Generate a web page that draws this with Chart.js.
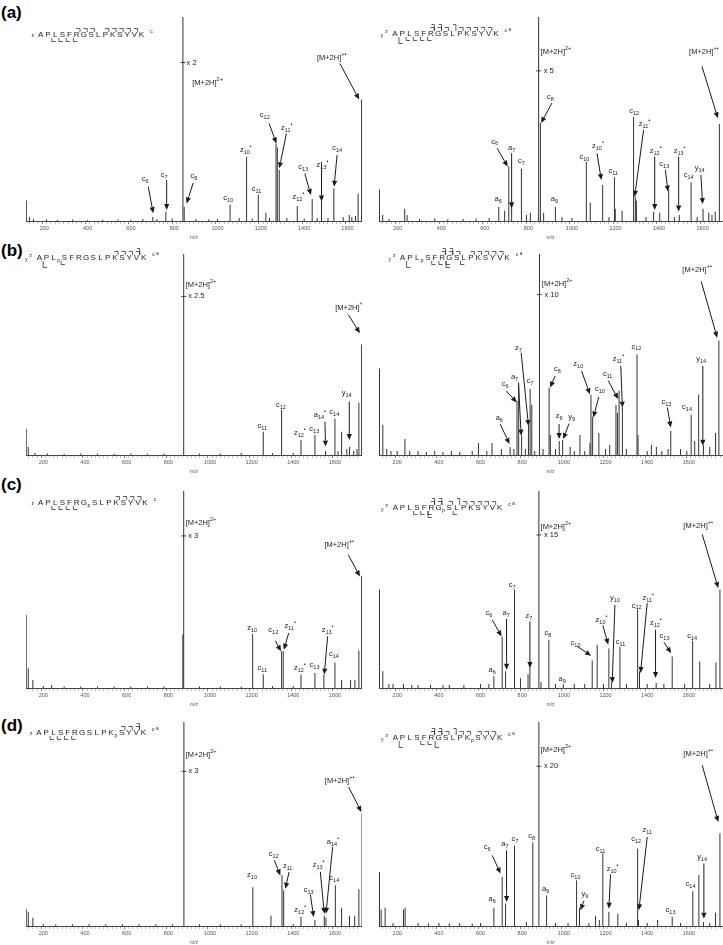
<!DOCTYPE html>
<html>
<head>
<meta charset="utf-8">
<script src="https://cdn.jsdelivr.net/npm/chart.js@4.4.0/dist/chart.umd.min.js"></script>
<style>
html, body { margin: 0; padding: 0; background: #fff; width: 723px; height: 945px; overflow: hidden; position: relative; }
canvas { position: absolute; }
.tag { position: absolute; left: 1px; font: bold 17px "Liberation Sans", Arial, sans-serif; line-height: 17px; color: #000; }
</style>
</head>
<body>
<div class="tag" style="top:4px">(a)</div>
<div class="tag" style="top:242px">(b)</div>
<div class="tag" style="top:476px">(c)</div>
<div class="tag" style="top:717px">(d)</div>
<script>
// tick labels on every m/z axis
var tickLabels = [200, 400, 600, 800, 1000, 1200, 1400, 1600];
var residues = ['A','P','L','S','F','R','G','S','L','P','K','S','Y','V','K'];

// peaks: [m/z, relative intensity %]
var peaksA1 = [[117,10],[131,2],[150,1],[210,0.8],[260,0.6],[330,0.7],[400,0.5],[470,0.6],[540,0.7],[600,0.6],
  [655,1],[701,2],[720,1],[761,4.5],[790,1.2],[840,100],[846,7],[900,1],[960,0.8],[1000,1],
  [1058,8],[1100,1.5],[1134,31.5],[1160,1.2],[1188,13],[1223,4],[1240,1.5],[1270,38],[1276,36],[1285,25],
  [1320,1.5],[1368,7.3],[1400,1.2],[1437,10.8],[1460,1.5],[1480,29],[1510,1.5],[1537,16],[1580,2],[1608,3],
  [1620,2],[1637,2.5],[1649,13.5],[1665,59.5]];
var peaksA2 = [[116,15.5],[131,3],[160,1],[232,6],[243,3],[300,1],[370,1.2],[430,0.8],[500,1],[560,1.2],
  [620,1.5],[664,7],[691,5],[710,27],[723,8],[768,25.5],[791,3],[809,4],[847,100],[855,48],[870,4],[924,7],
  [954,2],[1000,1.5],[1066,29],[1084,9],[1141,17.7],[1170,2],[1195,21.5],[1199,6],[1230,5],[1283,51],
  [1291,12],[1296,10],[1340,2],[1375,4.5],[1403,4],[1444,15.5],[1470,2],[1493,3],[1547,19],[1575,2],
  [1602,6],[1628,4],[1643,3],[1658,4.5],[1677,47.6]];
var peaksB1 = [[118,13],[128,4],[160,1],[220,0.8],[300,0.6],[380,0.7],[460,0.6],[540,0.6],[620,0.7],[700,0.6],
  [780,0.8],[874,100],[950,0.8],[1050,0.8],[1150,1],[1256,11.6],[1300,1],[1344,22.4],[1400,1],[1437,7.5],
  [1504,10],[1555,2],[1600,18],[1615,2],[1632,11.6],[1657,3],[1670,4],[1690,2],[1706,3],[1715,26],[1728,55]];
var peaksB2 = [[115,43],[131,15],[150,3],[170,2],[200,2],[237,8],[260,2],[300,2],[340,1.5],[380,2],
  [420,1.5],[460,2],[500,1.5],[560,2],[590,6],[630,2],[655,6],[700,3],[742,4],[760,3],[775,27],[783,35],
  [797,10],[815,3],[830,15],[838,33],[846,25],[860,2],[883,100],[900,3],[929,33.5],[935,10],[960,3],
  [978,7],[994,7.5],[1030,4],[1050,2],[1077,10],[1100,2],[1125,6],[1130,30],[1138,19],[1168,11],[1200,3],
  [1220,5],[1250,25],[1257,21],[1265,32],[1281,24],[1300,3],[1351,50],[1356,10],[1400,2],[1420,5],
  [1444,4],[1470,2],[1500,3],[1513,12],[1560,3],[1590,2],[1611,20],[1628,7],[1647,30],[1670,5],
  [1700,4],[1728,11],[1744,57]];
var peaksC1 = [[118,37],[128,10],[150,4],[200,1],[240,1.5],[300,0.8],[380,0.8],[460,0.8],[540,0.8],[620,0.8],
  [700,0.8],[780,0.8],[870,27],[874,100],[950,0.8],[1050,0.8],[1150,0.8],[1205,27.5],[1256,7],[1300,1],
  [1344,18.6],[1352,18.6],[1400,1],[1437,6.8],[1504,7.6],[1547,6.8],[1600,13],[1632,4],[1675,4],[1696,4],
  [1715,19],[1728,57]];
var peaksC2 = [[115,50],[131,8.5],[160,2],[180,2],[230,2],[270,1.5],[300,1.5],[360,1.5],[420,1.5],[450,1.5],
  [520,1.5],[600,2],[640,2],[664,6],[704,26],[720,8.5],[763,50],[792,5],[828,7],[837,12],[880,100],[890,3],
  [928,24.5],[960,2],[997,2],[1050,2],[1100,2],[1136,14],[1160,22],[1190,2],[1216,20],[1229,3],[1269,21],
  [1300,2],[1354,40],[1363,8.5],[1400,2],[1443,2.5],[1480,2],[1520,16],[1580,2],[1618,24],[1652,13.5],
  [1700,2],[1730,13],[1749,50]];
var peaksD1 = [[118,8.5],[128,7],[150,4],[200,1],[260,0.8],[340,0.8],[420,0.8],[500,0.8],[580,0.8],[660,0.8],
  [740,0.8],[820,0.8],[875,100],[950,0.8],[1050,0.8],[1150,0.8],[1206,19],[1293,5],[1346,25],[1354,17.5],
  [1400,1],[1437,4.5],[1504,3],[1549,5],[1557,4],[1602,20],[1632,9],[1670,5],[1695,5],[1715,18],[1730,55]];
var peaksD2 = [[115,26.5],[123,8],[142,9],[180,1.5],[230,8],[238,9],[300,1.5],[350,1.2],[400,1.5],[450,1.2],
  [500,1.5],[560,1.2],[600,1.5],[664,9],[704,24],[720,11],[763,39.5],[820,2],[851,41],[880,100],[917,15],
  [960,1.5],[1020,1.5],[1061,22.4],[1075,9],[1120,1.5],[1152,5],[1170,3],[1187,35.5],[1216,7],[1259,6],
  [1300,1.5],[1354,38],[1358,3],[1400,1.5],[1450,3],[1520,4.5],[1560,1.5],[1619,17],[1648,25],[1670,2],
  [1700,1.5],[1728,6.5],[1749,45.5]];

// ion labels: [ion, subscript, superscript, label m/z, label %, arrow from m/z, %, arrow to m/z, %]
var ionsA1 = [['c','12','',1218,51.9,1238,47.8,1272,38],['z','11','•',1315,45.7,1318,42.9,1285,25.8],
  ['z','10','•',1126,34.7],['c','14','',1552,35.6,1552,32.3,1538,16.8],['c','13','',1395,26.6,1403,23.3,1431,12.7],
  ['z','13','•',1480,27.7,1480,25,1480,9.5],['z','12','•',1369,11.9],['c','11','',1180,15.5],['c','10','',1049,11.1],
  ['c','6','',666,20.6,680,16.8,703,3.8],['c','7','',754,22.5,765,20.1,765,5.4],['c','8','',891,22.2,888,18.8,857,8.6]];
var ionsA2 = [['c','6','',645,39,656,35.7,705,26.7],['a','7','',723,36,723,33.2,723,6.2],['c','7','',768,29.5],
  ['a','6','',661,10.6],['c','8','',901,61,908,57.8,858,48],['a','9','',919,10.6],['c','10','',1057,31.6],
  ['z','10','•',1115,37,1115,33.2,1135,20.1],['c','11','',1189,24.7],['c','12','',1286,54],
  ['z','11','•',1329,47.6,1329,44.7,1288,11.9],['z','12','•',1380,34.4,1380,31.6,1380,5.4],
  ['c','13','',1424,27.8,1429,25,1441,14.4],['z','13','•',1490,34.4,1490,31.6,1490,4.6],['c','14','',1536,22.6],
  ['y','14','',1586,25.9,1592,22.6,1600,8.3]];
var ionsB1 = [['c','11','',1251,14.3],['c','12','',1341,24.9],['z','12','•',1427,10.8],['c','13','',1501,13],
  ['a','14','•',1523,19.9,1552,16.6,1555,4.2],['c','14','',1597,21.3],['y','14','',1656,30.7,1669,26.6,1669,7.5]];
var ionsB2 = [['a','6','',690,18.2,694,15.4,739,5.5],['c','6','',718,35.5,723,31.9,774,26.1],
  ['a','7','',763,38.8,782,36,795,9.6],['z','7','',782,53.4,795,50.9,830,14.5],['c','7','',838,36.9],
  ['c','8','',969,42.6,958,39.3,934,33.6],['z','9','',977,19.5,977,15.4,977,7.9],['y','9','',1037,19,1025,15.7,997,7.9],
  ['z','10','',1069,45.1,1085,41.8,1125,30.2],['c','10','',1173,32.7,1168,28.9,1141,18.7],
  ['c','11','',1210,40.2,1213,36.9,1261,27.8],['z','11','•',1257,47.6,1273,44.3,1281,23.6],['c','12','',1348,54],
  ['c','13','',1492,26.6,1497,23.6,1513,13.7],['c','14','',1591,24],['y','14','',1659,47.6,1667,44.3,1667,4.6]];
var ionsC1 = [['z','10','',1203,30.4],['c','11','',1251,10.1],['c','12','',1304,29.6,1314,24,1341,18.6],
  ['z','11','•',1381,31.3,1378,27.9,1355,19.4],['z','12','•',1427,10.1],['c','13','',1502,11.5],
  ['z','13','•',1560,29.6,1565,26.2,1549,6.8],['c','14','',1595,17.2]];
var ionsC2 = [['a','6','',656,9.3],['c','6','',640,38,656,34.6,701,26.2],['a','7','',723,38,725,35.1,725,9.3],
  ['c','7','',752,52.4],['z','7','',832,36.8,837,33.8,837,10.1],['c','8','',923,27.9],['a','9','',992,4.7],
  ['c','10','',1056,23.1,1064,21.1,1131,16.4],['z','10','•',1176,34.6,1187,31.8,1213,22],
  ['y','10','',1245,45.6,1245,42.2,1232,2.5],['c','11','',1272,23.6],['c','12','',1349,41.9],
  ['z','11','•',1400,45.9,1400,43.1,1368,7.6],['z','12','•',1437,32.9,1440,29.6,1440,5.1],
  ['c','13','',1483,26.2,1480,23.3,1515,17.7],['c','14','',1616,26.2]];
var ionsD1 = [['z','10','',1202,24.8],['c','12','',1306,35.5,1309,32.2,1338,24.8],['z','11','',1373,29.2,1380,26.5,1362,18.3],
  ['z','12','•',1429,7.7],['c','13','',1474,17.8,1482,15.5,1498,4.4],['z','13','•',1517,29.7,1530,26.5,1549,6],
  ['a','14','•',1586,41.2,1589,38.7,1557,6],['c','14','',1597,23.7]];
var ionsD2 = [['a','6','',656,13.1],['c','6','',632,38.7,656,34.6,696,25.7],['a','7','',717,40,725,37.1,725,11.8],
  ['c','7','',765,42.8],['c','8','',845,44],['a','9','',912,18],['c','10','',1056,24.8],
  ['y','9','',1101,15.5,1096,12.3,1080,7.7],['c','11','',1176,37.6],['z','10','•',1229,28.1,1224,25.3,1216,8.5],
  ['c','12','',1347,42.8],['z','11','',1400,46.9,1400,43.6,1360,7.7],['c','13','',1512,8],['c','14','',1608,20.8],
  ['y','14','',1664,33.8,1672,30.6,1672,3.6]];

// precursor: m/z, [M+2H]2+ label pos, magnification text + pos, [M+2H]+• label pos and arrow
var precA1 = {mz: 840, lab: [883, 67.7], mag: 'x 2', magAt: [857, 77.7], rad: [1515, 79.9, 1565, 77.2, 1654, 59.5]};
var precA2 = {mz: 847, lab: [856, 83], mag: 'x 5', magAt: [870, 73.6], rad: [1594, 83, 1597, 75.8, 1670, 50.4]};
var precB1 = {mz: 874, lab: [883, 84.7], mag: 'x 2.5', magAt: [896, 78.9], rad: [1660, 73.4, 1664, 69.8, 1720, 60.6]};
var precB2 = {mz: 883, lab: [894, 85.1], mag: 'x 10', magAt: [907, 79.8], rad: [1627, 92.2, 1659, 86.4, 1736, 58.3]};
var precC1 = {mz: 874, lab: [883, 83.6], mag: 'x 3', magAt: [896, 77.2], rad: [1608, 72.6, 1664, 67.6, 1720, 56.6]};
var precC2 = {mz: 880, lab: [888, 81.9], mag: 'x 15', magAt: [904, 77.7], rad: [1632, 82.3, 1664, 78, 1741, 50.7]};
var precD1 = {mz: 875, lab: [884, 83.7], mag: 'x 3', magAt: [897, 75.8], rad: [1610, 71.1, 1666, 68.1, 1727, 55.9]};
var precD2 = {mz: 880, lab: [888, 86.4], mag: 'x 20', magAt: [904, 78.3], rad: [1632, 84.5, 1664, 78.8, 1741, 51]};

// fragment maps of the peptide
var seqA1 = {pre: 'z', suf: 'c', phos: -1, c: [6,7,8,10,11,12,13,14], a: [], z: [10,11,12,13], y: []};
var seqA2 = {pre: 'y z', suf: 'c a', phos: -1, c: [6,7,8,10,11,12,13,14], a: [6,7,9], z: [10,11,12,13], y: [14]};
var seqB1 = {pre: 'y z', suf: 'c a', phos: 3, c: [11,12,13,14], a: [14], z: [12], y: [14]};
var seqB2 = {pre: 'y z', suf: 'c a', phos: 3, c: [6,7,8,10,11,12,13,14], a: [6,7], z: [7,9,10,11], y: [9,14]};
var seqC1 = {pre: 'z', suf: 'c', phos: 7, c: [11,12,13,14], a: [], z: [10,11,12,13], y: []};
var seqC2 = {pre: 'y z', suf: 'c a', phos: 7, c: [6,7,8,10,11,12,13,14], a: [6,7,9], z: [7,10,11,12], y: [10]};
var seqD1 = {pre: 'z', suf: 'c a', phos: 11, c: [12,13,14], a: [14], z: [10,11,12,13], y: []};
var seqD2 = {pre: 'y z', suf: 'c a', phos: 11, c: [6,7,8,10,11,12,13,14], a: [6,7,9], z: [10,11], y: [9,14]};

// page layout
var rowTop = [17, 254, 491, 722], rowBase = [221, 455, 688, 926];
var colLeft = [0, 362], colWidth = [362, 361], areaLeft = [26, 379], areaRight = [362, 722];
var seqAt = [[40.7, 35, 395, 34], [39.3, 258, 402.7, 258], [40.7, 503, 395.3, 508], [39, 733, 395.3, 738]];

var panels = [
  {row: 0, col: 0, peaks: peaksA1, ions: ionsA1, prec: precA1, seq: seqA1, xmin: 115.5, xmax: 1667},
  {row: 0, col: 1, peaks: peaksA2, ions: ionsA2, prec: precA2, seq: seqA2, xmin: 114, xmax: 1689},
  {row: 1, col: 0, peaks: peaksB1, ions: ionsB1, prec: precB1, seq: seqB1, xmin: 117, xmax: 1730},
  {row: 1, col: 1, peaks: peaksB2, ions: ionsB2, prec: precB2, seq: seqB2, xmin: 112.6, xmax: 1759},
  {row: 2, col: 0, peaks: peaksC1, ions: ionsC1, prec: precC1, seq: seqC1, xmin: 117, xmax: 1730},
  {row: 2, col: 1, peaks: peaksC2, ions: ionsC2, prec: precC2, seq: seqC2, xmin: 112.6, xmax: 1759},
  {row: 3, col: 0, peaks: peaksD1, ions: ionsD1, prec: precD1, seq: seqD1, xmin: 117, xmax: 1730},
  {row: 3, col: 1, peaks: peaksD2, ions: ionsD2, prec: precD2, seq: seqD2, xmin: 112.6, xmax: 1759}
];

var FONT = '"Liberation Sans", Arial, sans-serif';
var INK = '#1a1a1a';

function txt(ctx, s, x, y, size, align) {
  ctx.font = size + 'px ' + FONT;
  ctx.textAlign = align || 'left';
  ctx.textBaseline = 'middle';
  ctx.fillText(s, x, y);
  return ctx.measureText(s).width;
}

function ionLabel(ctx, base, sub, sup, x, y, align) {
  ctx.font = '7.5px ' + FONT;
  var wb = ctx.measureText(base).width;
  ctx.font = '5.5px ' + FONT;
  var ws = sub ? ctx.measureText(sub).width : 0;
  var x0 = align === 'left' ? x : x - (wb + ws) / 2;
  txt(ctx, base, x0, y, 7.5);
  if (sub) txt(ctx, sub, x0 + wb, y + 2.5, 5.5);
  if (sup) txt(ctx, sup, x0 + wb + ws, y - 3.5, 5.5);
}

function arrow(ctx, x1, y1, x2, y2) {
  var ang = Math.atan2(y2 - y1, x2 - x1), L = 6, W = 2.6;
  var bx = x2 - L * Math.cos(ang), by = y2 - L * Math.sin(ang);
  ctx.lineWidth = 1;
  ctx.beginPath(); ctx.moveTo(x1, y1); ctx.lineTo(bx, by); ctx.stroke();
  ctx.beginPath(); ctx.moveTo(x2, y2);
  ctx.lineTo(bx + W * Math.sin(ang), by - W * Math.cos(ang));
  ctx.lineTo(bx - W * Math.sin(ang), by + W * Math.cos(ang));
  ctx.closePath(); ctx.fill();
}

function seg(ctx, pts) {
  ctx.beginPath();
  ctx.moveTo(pts[0], pts[1]);
  for (var k = 2; k < pts.length; k += 2) ctx.lineTo(pts[k], pts[k + 1]);
  ctx.stroke();
}

function drawSeq(ctx, s, sx, sy) {
  var mid = sy, cur = sx, cx = [];
  residues.forEach(function (r, i) {
    if (i === s.phos) { txt(ctx, 'p', cur - 2.2, mid + 2.5, 5, 'center'); cur += 3.5; }
    txt(ctx, r, cur, mid, 8, 'center');
    cx.push(cur);
    cur += 7.2;
  });
  var f = cx[0], l = cx[14];
  if (s.pre === 'z') txt(ctx, 'z', f - 8, mid + 1, 5, 'center');
  else { txt(ctx, 'y', f - 13, mid + 2, 5, 'center'); txt(ctx, 'z', f - 8.5, mid - 2, 5, 'center'); }
  txt(ctx, 'c', l + 10, mid - 3, 5, 'center');
  if (s.suf === 'c a') txt(ctx, 'a', l + 14, mid - 4.5, 4.5, 'center');
  ctx.lineWidth = 0.7;
  var top = mid - 6.5;
  s.c.forEach(function (n) { var x = cx[n - 1]; seg(ctx, [x - 0.5, top, x + 3.3, top, x + 3.3, top + 3.5]); });
  s.a.forEach(function (n) { var x = cx[n - 1]; seg(ctx, [x + 0.5, top - 3, x + 3.3, top - 3, x + 3.3, top + 3.5]); });
  s.z.forEach(function (n) { var x = cx[15 - n]; seg(ctx, [x - 3.3, mid + 3, x - 3.3, mid + 6.5, x + 0.5, mid + 6.5]); });
  s.y.forEach(function (n) { var x = cx[15 - n]; seg(ctx, [x - 3.3, mid + 3, x - 3.3, mid + 9.5, x + 0.5, mid + 9.5]); });
}

panels.forEach(function (p) {
  var cvLeft = colLeft[p.col], cvTop = rowTop[p.row] - 10;
  var cvH = rowBase[p.row] - rowTop[p.row] + 10 + 20;
  var cv = document.createElement('canvas');
  cv.width = colWidth[p.col];
  cv.height = cvH;
  cv.style.left = cvLeft + 'px';
  cv.style.top = cvTop + 'px';
  document.body.appendChild(cv);

  var annot = {
    id: 'annot',
    afterDatasetsDraw: function (chart) {
      var ctx = chart.ctx, xs = chart.scales.x, ys = chart.scales.y;
      var X = function (v) { return xs.getPixelForValue(v); };
      var Y = function (v) { return ys.getPixelForValue(v); };
      ctx.save();
      ctx.fillStyle = INK;
      ctx.strokeStyle = INK;
      p.ions.forEach(function (d) {
        ionLabel(ctx, d[0], d[1], d[2], X(d[3]), Y(d[4]));
        if (d.length > 5) arrow(ctx, X(d[5]), Y(d[6]), X(d[7]), Y(d[8]));
      });
      var pr = p.prec;
      ionLabel(ctx, '[M+2H]', '', '2+', X(pr.lab[0]), Y(pr.lab[1]), 'left');
      ctx.lineWidth = 0.8;
      seg(ctx, [X(pr.mz) - 2.5, Y(pr.magAt[1]), X(pr.mz) + 2.5, Y(pr.magAt[1])]);
      txt(ctx, pr.mag, X(pr.magAt[0]), Y(pr.magAt[1]), 7.5);
      ionLabel(ctx, '[M+2H]', '', '+•', X(pr.rad[0]), Y(pr.rad[1]));
      arrow(ctx, X(pr.rad[2]), Y(pr.rad[3]), X(pr.rad[4]), Y(pr.rad[5]));
      var at = seqAt[p.row];
      drawSeq(ctx, p.seq, at[p.col * 2] - cvLeft, at[p.col * 2 + 1] - cvTop);
      ctx.restore();
    }
  };

  new Chart(cv, {
    type: 'bar',
    data: {
      datasets: [{
        data: p.peaks.map(function (q) { return {x: q[0], y: q[1]}; }),
        backgroundColor: '#333333',
        borderWidth: 0,
        inflateAmount: 0,
        barThickness: 1
      }]
    },
    options: {
      responsive: false,
      animation: false,
      layout: { padding: { left: areaLeft[p.col] - cvLeft, right: cvLeft + colWidth[p.col] - areaRight[p.col], top: 10, bottom: 0 } },
      plugins: { legend: { display: false }, tooltip: { enabled: false } },
      scales: {
        x: {
          type: 'linear', min: p.xmin, max: p.xmax, offset: false,
          afterBuildTicks: function (s) {
            var t = [];
            for (var v = Math.ceil(s.min / 20) * 20; v <= s.max; v += 20) t.push({value: v});
            s.ticks = t;
          },
          afterFit: function (s) { s.height = 20; },
          ticks: {
            autoSkip: false, maxRotation: 0, minRotation: 0, padding: 1, color: '#555',
            font: { size: 5.5, family: FONT },
            callback: function (v) { return tickLabels.indexOf(v) >= 0 ? String(v) : ''; }
          },
          grid: {
            drawOnChartArea: false, tickLength: 3, lineWidth: 0.6,
            color: function (c) { return c.tick && tickLabels.indexOf(c.tick.value) >= 0 ? '#333' : '#999'; }
          },
          border: { display: true, color: '#444', width: 1 },
          title: { display: true, text: 'm/z', color: '#555', font: { size: 5, family: FONT }, padding: { top: 0, bottom: 0 } }
        },
        y: { display: false, min: 0, max: 100 }
      }
    },
    plugins: [annot]
  });
});
</script>
</body>
</html>
